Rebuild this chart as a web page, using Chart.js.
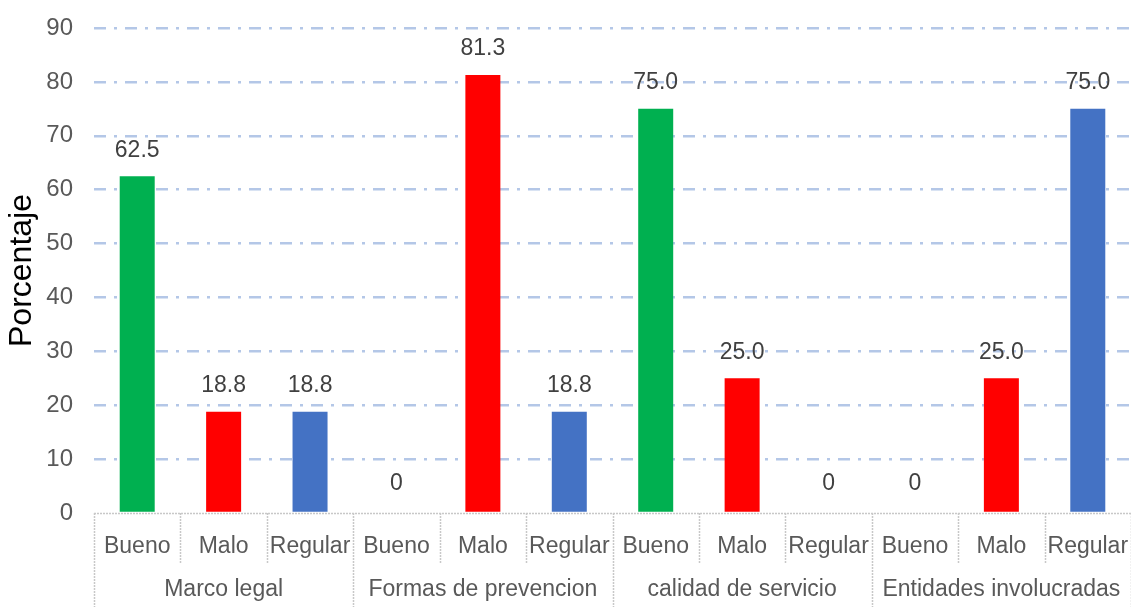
<!DOCTYPE html>
<html>
<head>
<meta charset="utf-8">
<script src="https://cdn.jsdelivr.net/npm/chart.js@4.4.1/dist/chart.umd.min.js"></script>
<style>
html,body{margin:0;padding:0;background:#fff;}
#wrap{width:1131px;height:607px;position:relative;}
</style>
</head>
<body>
<div id="wrap"><canvas id="c"></canvas></div>
<script>
const groups = ['Marco legal', 'Formas de prevencion', 'calidad de servicio', 'Entidades involucradas'];
const levels = ['Bueno', 'Malo', 'Regular'];
const values = [62.5, 18.8, 18.8, 0, 81.3, 18.8, 75.0, 25.0, 0, 0, 25.0, 75.0];
const levelColors = ['#00B050', '#FF0000', '#4472C4'];
const yTicks = [0, 10, 20, 30, 40, 50, 60, 70, 80, 90];
const yTitle = 'Porcentaje';

const labels = [];
const barColors = [];
groups.forEach(() => levels.forEach((l, j) => { labels.push(l); barColors.push(levelColors[j]); }));

const FONT = '"Liberation Sans", Arial, sans-serif';

const decor = {
  id: 'decor',
  afterDatasetsDraw(chart) {
    const ctx = chart.ctx;
    const x = chart.scales.x;
    const y = chart.scales.y;
    const area = chart.chartArea;
    const base = y.getPixelForValue(0);
    const n = labels.length;
    const bounds = [];
    for (let i = 0; i <= n; i++) {
      if (i === 0) bounds.push(area.left);
      else if (i === n) bounds.push(area.right);
      else bounds.push((x.getPixelForTick(i - 1) + x.getPixelForTick(i)) / 2);
    }
    ctx.save();
    ctx.strokeStyle = '#C8C8C8';
    ctx.lineWidth = 1.5;
    ctx.setLineDash([2, 1]);
    ctx.beginPath();
    ctx.moveTo(area.left, base + 0.5);
    ctx.lineTo(area.right, base + 0.5);
    ctx.stroke();
    for (let i = 0; i <= n; i++) {
      const bx = Math.round(bounds[i]) + 0.5;
      const end = (i % levels.length === 0) ? chart.height : base + 50;
      ctx.beginPath();
      ctx.moveTo(bx, base);
      ctx.lineTo(bx, end);
      ctx.stroke();
    }
    ctx.setLineDash([]);
    ctx.fillStyle = '#595959';
    ctx.font = '23px ' + FONT;
    ctx.textAlign = 'center';
    ctx.textBaseline = 'middle';
    groups.forEach((g, gi) => {
      const cx = (bounds[gi * levels.length] + bounds[(gi + 1) * levels.length]) / 2;
      ctx.fillText(g, cx, base + 77);
    });
    ctx.fillStyle = '#404040';
    const meta = chart.getDatasetMeta(0);
    meta.data.forEach((bar, i) => {
      const v = values[i];
      const txt = v === 0 ? '0' : v.toFixed(1);
      ctx.fillText(txt, bar.x, bar.y - (v === 0 ? 29 : 26));
    });
    ctx.restore();
  }
};

new Chart(document.getElementById('c'), {
  type: 'bar',
  data: {
    labels: labels,
    datasets: [{
      data: values,
      backgroundColor: barColors,
      borderWidth: 0,
      categoryPercentage: 1,
      barPercentage: 0.405
    }]
  },
  options: {
    responsive: true,
    maintainAspectRatio: false,
    animation: false,
    devicePixelRatio: 1,
    layout: { padding: { top: 28, right: 0, bottom: 0, left: 0 } },
    plugins: { legend: { display: false }, tooltip: { enabled: false } },
    scales: {
      x: {
        grid: { display: false, drawTicks: false },
        border: { display: false },
        ticks: {
          autoSkip: false, maxRotation: 0, minRotation: 0,
          color: '#595959', padding: 20,
          font: { family: FONT, size: 23 }
        },
        afterFit(scale) { scale.height = 94; scale.paddingLeft = 0; scale.paddingRight = 0; }
      },
      y: {
        min: 0, max: 90,
        afterBuildTicks(scale) { scale.ticks = yTicks.map(v => ({ value: v })); },
        grid: {
          drawTicks: false,
          lineWidth: 2.5,
          color: (c) => (c.tick && c.tick.value === 0) ? 'rgba(0,0,0,0)' : '#B4C7E7',
          borderDash: [12, 8, 3, 8]
        },
        border: { display: false, dash: [12, 8, 3, 8] },
        ticks: {
          color: '#595959', padding: 21,
          font: { family: FONT, size: 24 }
        },
        title: {
          display: true, text: yTitle, color: '#000000',
          font: { family: FONT, size: 32 },
          padding: { top: 3, bottom: 0 }
        },
        afterFit(scale) { scale.width = 94; scale.paddingTop = 0; scale.paddingBottom = 0; }
      }
    }
  },
  plugins: [decor]
});
</script>
</body>
</html>
